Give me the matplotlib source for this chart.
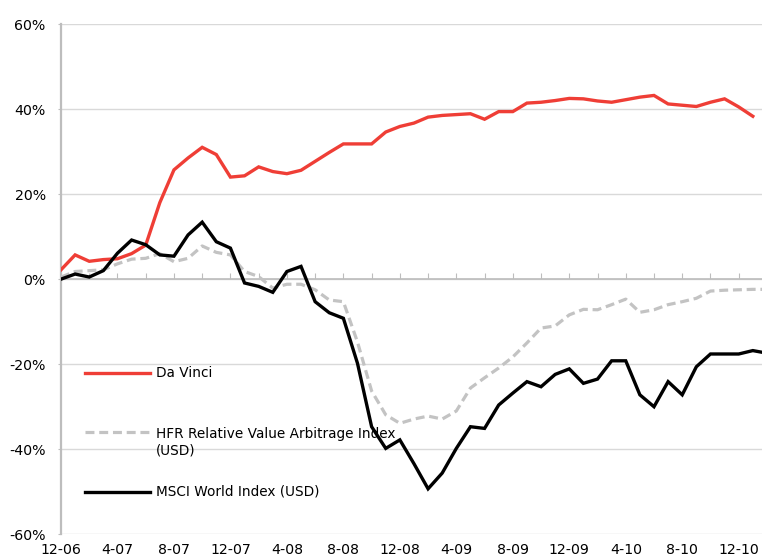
import matplotlib
matplotlib.use('Agg')
import matplotlib.pyplot as plt
from matplotlib.ticker import FuncFormatter
import numpy as np

plt.rcParams['font.family'] = ['DejaVu Sans']
plt.rcParams['font.size'] = 10

# monthly cumulative returns (%), starting 12-06
da_vinci = [2.2, 5.7, 4.2, 4.6, 4.8, 6.0, 8.0, 18.0, 25.7, 28.5,
            31.0, 29.3, 24.0, 24.3, 26.4, 25.3, 24.8, 25.6, 27.7, 29.8,
            31.8, 31.8, 31.8, 34.6, 35.9, 36.7, 38.1, 38.5, 38.7, 38.9,
            37.6, 39.4, 39.4, 41.4, 41.6, 42.0, 42.5, 42.4, 41.9, 41.6,
            42.2, 42.8, 43.2, 41.2, 40.9, 40.6, 41.6, 42.4, 40.5, 38.3]
hfr = [0.5, 1.8, 2.0, 2.2, 3.6, 4.7, 4.9, 6.0, 4.1, 4.9,
       7.8, 6.3, 5.7, 1.8, 0.6, -2.1, -1.2, -1.2, -2.5, -4.9,
       -5.3, -14.8, -26.3, -31.9, -33.9, -32.9, -32.2, -32.9, -31.0, -25.6,
       -23.2, -20.9, -18.3, -15.0, -11.5, -11.0, -8.4, -7.1, -7.2, -6.0,
       -4.7, -7.8, -7.2, -6.0, -5.3, -4.5, -2.8, -2.6, -2.5, -2.4, -2.4]
msci = [0.0, 1.2, 0.5, 2.0, 6.1, 9.2, 8.1, 5.7, 5.4, 10.4,
        13.4, 8.8, 7.3, -0.9, -1.7, -3.1, 1.8, 3.0, -5.3, -7.9,
        -9.2, -19.8, -34.7, -39.8, -37.8, -43.4, -49.3, -45.6, -39.8, -34.7,
        -35.1, -29.6, -26.8, -24.1, -25.3, -22.4, -21.1, -24.5, -23.5, -19.2,
        -19.2, -27.2, -30.0, -24.1, -27.2, -20.6, -17.6, -17.6, -17.6, -16.8, -17.4]
tick_labels = ['12-06', '4-07', '8-07', '12-07', '4-08', '8-08', '12-08',
               '4-09', '8-09', '12-09', '4-10', '8-10', '12-10']

red = '#ef3e36'
grey = '#c3c3c3'
axis_grey = '#bdbdbd'

fig = plt.figure(figsize=(7.62, 5.6), dpi=100)
ax = fig.add_axes([61 / 762, 25.7 / 560, 701 / 762, 510.3 / 560])

ax.plot(np.arange(len(da_vinci)), da_vinci, color=red, lw=2.4,
        solid_joinstyle='miter', zorder=3)
ax.plot(np.arange(len(hfr)), hfr, color=grey, lw=2.3, dashes=(2.8, 1.5),
        dash_capstyle='butt', zorder=4)
ax.plot(np.arange(len(msci)), msci, color='black', lw=2.4,
        solid_joinstyle='miter', zorder=5)

ax.set_xlim(0, 49.65)
ax.set_ylim(-60, 60)

# horizontal gridlines
ax.set_yticks(np.arange(-60, 61, 20))
ax.yaxis.set_major_formatter(FuncFormatter(lambda v, p: f'{v:.0f}%'))
ax.grid(axis='y', color='#d9d9d9', lw=1.0, zorder=0)
ax.set_axisbelow(True)
ax.tick_params(axis='y', length=2, color=axis_grey, pad=9, labelsize=10.2)

# category axis crosses at 0%
for s in ['top', 'right']:
    ax.spines[s].set_visible(False)
ax.spines['left'].set_color(axis_grey)
ax.spines['left'].set_linewidth(1.6)
ax.spines['bottom'].set_position(('data', 0))
ax.spines['bottom'].set_color(axis_grey)
ax.spines['bottom'].set_linewidth(1.2)
ax.set_xticks(np.arange(0, 50, 2))
ax.tick_params(axis='x', direction='in', length=4, color=axis_grey,
               labelbottom=False)

sec = ax.secondary_xaxis('bottom')
sec.spines['bottom'].set_visible(False)
sec.set_xticks(np.arange(0, 49, 4), tick_labels)
sec.tick_params(length=0, pad=6, labelsize=10.2)

# legend drawn inside the plot area
entries = [('Da Vinci', dict(color=red, lw=2.4), 0.316, 0.316),
           ('HFR Relative Value Arbitrage Index\n(USD)',
            dict(color=grey, lw=2.3, dashes=(2.8, 1.5), dash_capstyle='butt'),
            0.2005, 0.1805),
           ('MSCI World Index (USD)', dict(color='black', lw=2.4), 0.0829, 0.0829)]
for label, style, y_line, y_text in entries:
    ax.plot([0.034, 0.127], [y_line, y_line], transform=ax.transAxes,
            zorder=6, **style)
    ax.text(0.136, y_text, label, transform=ax.transAxes, fontsize=9.8,
            va='center', ha='left', linespacing=1.2, zorder=6)

fig.savefig('out.png', dpi=100)
